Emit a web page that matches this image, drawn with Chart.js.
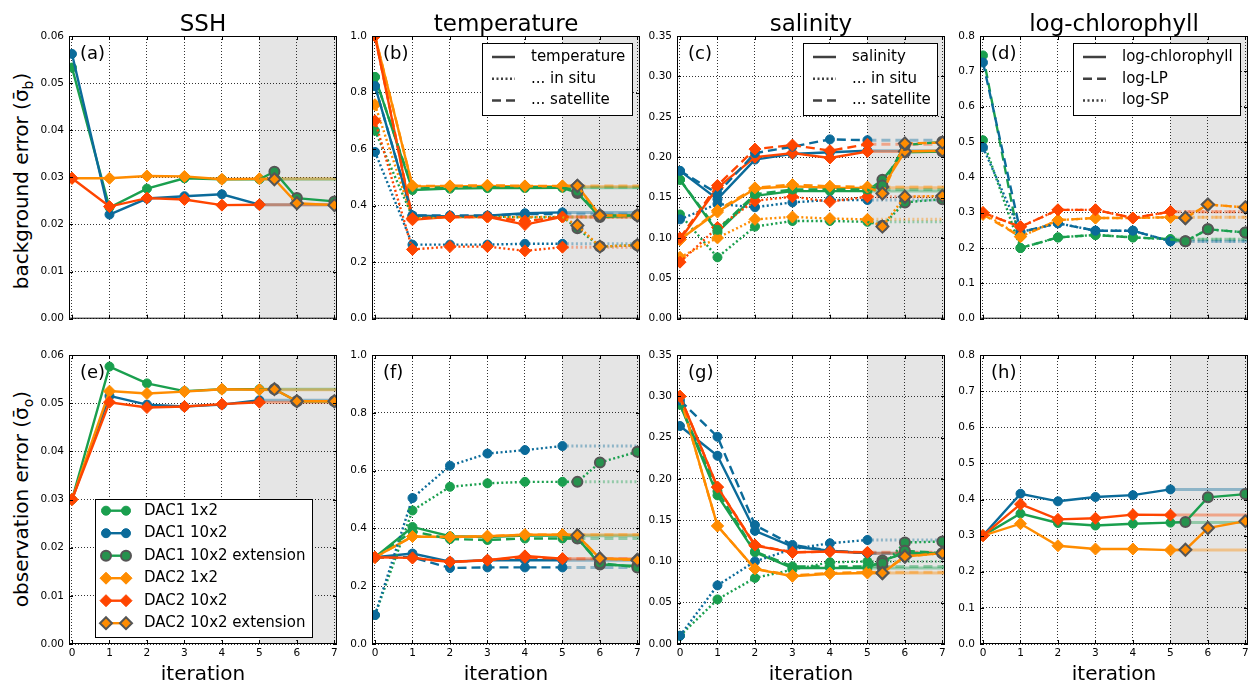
<!DOCTYPE html>
<html>
<head>
<meta charset="utf-8">
<title>DAC error estimates per iteration</title>
<script src="https://cdn.jsdelivr.net/npm/chart.js@4/dist/chart.umd.min.js"></script>
<style>
  body { margin: 0; background: #fff; }
  #wrap { position: relative; width: 1252px; height: 685px; overflow: hidden; font-family: "DejaVu Sans", sans-serif; }
  #wrap canvas { position: absolute; }
  .ylab { position: absolute; font-size: 20px; white-space: nowrap; transform: translate(-50%, -50%) rotate(-90deg); color: #000; }
  .ylab sub { font-size: 14px; }
</style>
</head>
<body>
<div id="wrap">
  <div class="ylab" style="left:22px; top:181px">background error (σ̄<sub>b</sub>)</div>
  <div class="ylab" style="left:22px; top:499px">observation error (σ̄<sub>o</sub>)</div>
</div>

<script>
// x positions
const iterations = [0, 1, 2, 3, 4, 5];
const extIterations = [5, 5.4, 6, 7];
const xTicks = [0, 1, 2, 3, 4, 5, 6, 7];

// y tick labels
const sshTicks = [0.00, 0.01, 0.02, 0.03, 0.04, 0.05, 0.06];
const tempTicks = [0.0, 0.2, 0.4, 0.6, 0.8, 1.0];
const saltTicks = [0.00, 0.05, 0.10, 0.15, 0.20, 0.25, 0.30, 0.35];
const chlTicks = [0.0, 0.1, 0.2, 0.3, 0.4, 0.5, 0.6, 0.7, 0.8];

const runNames = ['DAC1 1x2', 'DAC1 10x2', 'DAC1 10x2 extension', 'DAC2 1x2', 'DAC2 10x2', 'DAC2 10x2 extension'];

// (a) SSH, background error
const a_dac1_1x2 = [0.0533, 0.0236, 0.0276, 0.0298, 0.0296, 0.0296];
const a_dac1_10x2 = [0.0562, 0.0221, 0.0255, 0.0260, 0.0264, 0.0242];
const a_dac2_1x2 = [0.0298, 0.0298, 0.0303, 0.0302, 0.0296, 0.0297];
const a_dac2_10x2 = [0.0298, 0.0238, 0.0256, 0.0253, 0.0241, 0.0242];
const a_ext_dac1 = [0.0296, 0.0312, 0.0256, 0.0249];
const a_ext_dac2 = [0.0297, 0.0296, 0.0245, 0.0241];

// (b) temperature, background error
const b_dac1_1x2 = [0.855, 0.455, 0.460, 0.462, 0.462, 0.463];
const b_dac1_10x2 = [0.823, 0.365, 0.362, 0.364, 0.373, 0.376];
const b_dac2_1x2 = [1.000, 0.468, 0.468, 0.470, 0.468, 0.468];
const b_dac2_10x2 = [1.000, 0.350, 0.360, 0.360, 0.333, 0.360];
const b_dac1_1x2_insitu = [0.665, 0.360, 0.360, 0.362, 0.358, 0.360];
const b_dac1_10x2_insitu = [0.590, 0.262, 0.262, 0.262, 0.265, 0.265];
const b_dac2_1x2_insitu = [0.757, 0.355, 0.360, 0.360, 0.360, 0.360];
const b_dac2_10x2_insitu = [0.700, 0.245, 0.255, 0.255, 0.240, 0.253];
const b_dac1_1x2_sat = [0.855, 0.460, 0.465, 0.465, 0.465, 0.465];
const b_dac1_10x2_sat = [0.823, 0.365, 0.365, 0.365, 0.370, 0.370];
const b_dac2_1x2_sat = [1.000, 0.470, 0.470, 0.472, 0.470, 0.470];
const b_dac2_10x2_sat = [1.000, 0.355, 0.360, 0.360, 0.345, 0.360];
const b_ext_dac1 = [0.463, 0.445, 0.360, 0.365];
const b_ext_dac2 = [0.468, 0.470, 0.365, 0.365];
const b_ext_dac1_insitu = [0.360, 0.320, 0.255, 0.260];
const b_ext_dac2_insitu = [0.360, 0.330, 0.255, 0.260];
const b_ext_dac1_sat = [0.465, 0.450, 0.365, 0.365];
const b_ext_dac2_sat = [0.470, 0.470, 0.365, 0.365];

// (c) salinity, background error
const c_dac1_1x2 = [0.172, 0.107, 0.152, 0.158, 0.158, 0.158];
const c_dac1_10x2 = [0.183, 0.148, 0.197, 0.204, 0.206, 0.208];
const c_dac2_1x2 = [0.098, 0.132, 0.161, 0.164, 0.162, 0.162];
const c_dac2_10x2 = [0.098, 0.162, 0.200, 0.205, 0.199, 0.207];
const c_dac1_1x2_insitu = [0.129, 0.076, 0.114, 0.121, 0.121, 0.120];
const c_dac1_10x2_insitu = [0.123, 0.142, 0.138, 0.144, 0.147, 0.147];
const c_dac2_1x2_insitu = [0.076, 0.100, 0.123, 0.126, 0.124, 0.123];
const c_dac2_10x2_insitu = [0.070, 0.113, 0.146, 0.151, 0.145, 0.151];
const c_dac1_1x2_sat = [0.172, 0.110, 0.154, 0.160, 0.160, 0.160];
const c_dac1_10x2_sat = [0.183, 0.155, 0.205, 0.213, 0.222, 0.221];
const c_dac2_1x2_sat = [0.098, 0.134, 0.162, 0.166, 0.164, 0.163];
const c_dac2_10x2_sat = [0.100, 0.165, 0.210, 0.215, 0.208, 0.216];
const c_ext_dac1 = [0.158, 0.172, 0.206, 0.207];
const c_ext_dac2 = [0.162, 0.163, 0.207, 0.208];
const c_ext_dac1_insitu = [0.120, 0.115, 0.144, 0.148];
const c_ext_dac2_insitu = [0.123, 0.114, 0.151, 0.152];
const c_ext_dac1_sat = [0.160, 0.165, 0.215, 0.219];
const c_ext_dac2_sat = [0.163, 0.155, 0.217, 0.218];

// (d) log-chlorophyll, background error
const d_dac1_1x2_lp = [0.745, 0.200, 0.230, 0.237, 0.230, 0.225];
const d_dac1_10x2_lp = [0.725, 0.245, 0.270, 0.249, 0.249, 0.219];
const d_dac2_1x2_lp = [0.295, 0.232, 0.279, 0.285, 0.285, 0.287];
const d_dac2_10x2_lp = [0.300, 0.260, 0.308, 0.308, 0.285, 0.303];
const d_dac1_1x2_sp = [0.505, 0.200, 0.230, 0.237, 0.230, 0.225];
const d_dac1_10x2_sp = [0.485, 0.245, 0.270, 0.249, 0.249, 0.219];
const d_dac2_1x2_sp = [0.300, 0.232, 0.279, 0.285, 0.285, 0.287];
const d_dac2_10x2_sp = [0.300, 0.260, 0.308, 0.308, 0.285, 0.303];
const d_ext_dac1 = [0.225, 0.219, 0.253, 0.244];
const d_ext_dac2 = [0.287, 0.285, 0.323, 0.315];

// (e) SSH, observation error
const e_dac1_1x2 = [0.0300, 0.0576, 0.0541, 0.0525, 0.0529, 0.0529];
const e_dac1_10x2 = [0.0300, 0.0515, 0.0497, 0.0493, 0.0497, 0.0506];
const e_dac2_1x2 = [0.0300, 0.0525, 0.0520, 0.0524, 0.0529, 0.0528];
const e_dac2_10x2 = [0.0300, 0.0502, 0.0491, 0.0493, 0.0498, 0.0502];
const e_ext_dac1 = [0.0529, 0.0529, 0.0504, 0.0504];
const e_ext_dac2 = [0.0528, 0.0529, 0.0504, 0.0504];

// (f) temperature, observation error
const f_dac1_1x2 = [0.300, 0.405, 0.373, 0.370, 0.375, 0.375];
const f_dac1_10x2 = [0.300, 0.313, 0.285, 0.290, 0.290, 0.290];
const f_dac2_1x2 = [0.300, 0.372, 0.370, 0.373, 0.378, 0.378];
const f_dac2_10x2 = [0.300, 0.298, 0.284, 0.290, 0.305, 0.295];
const f_dac1_1x2_insitu = [0.100, 0.462, 0.544, 0.556, 0.561, 0.561];
const f_dac1_10x2_insitu = [0.100, 0.505, 0.617, 0.659, 0.671, 0.685];
const f_dac1_1x2_sat = [0.300, 0.390, 0.363, 0.360, 0.365, 0.365];
const f_dac1_10x2_sat = [0.300, 0.300, 0.263, 0.265, 0.265, 0.265];
const f_dac2_1x2_sat = [0.300, 0.372, 0.370, 0.373, 0.378, 0.378];
const f_dac2_10x2_sat = [0.300, 0.298, 0.284, 0.290, 0.300, 0.295];
const f_ext_dac1 = [0.375, 0.367, 0.275, 0.270];
const f_ext_dac2 = [0.378, 0.376, 0.296, 0.292];
const f_ext_dac1_insitu = [0.561, 0.561, 0.628, 0.665];
const f_ext_dac1_sat = [0.365, 0.365, 0.280, 0.265];
const f_ext_dac2_sat = [0.378, 0.376, 0.296, 0.290];

// (g) salinity, observation error
const g_dac1_1x2 = [0.290, 0.180, 0.111, 0.092, 0.092, 0.092];
const g_dac1_10x2 = [0.264, 0.228, 0.137, 0.118, 0.113, 0.110];
const g_dac2_1x2 = [0.300, 0.143, 0.091, 0.082, 0.085, 0.086];
const g_dac2_10x2 = [0.300, 0.190, 0.119, 0.111, 0.112, 0.110];
const g_dac1_1x2_insitu = [0.010, 0.054, 0.080, 0.090, 0.099, 0.100];
const g_dac1_10x2_insitu = [0.010, 0.071, 0.100, 0.115, 0.122, 0.126];
const g_dac1_1x2_sat = [0.290, 0.185, 0.112, 0.094, 0.094, 0.094];
const g_dac1_10x2_sat = [0.295, 0.251, 0.144, 0.120, 0.113, 0.110];
const g_dac2_1x2_sat = [0.300, 0.143, 0.091, 0.083, 0.086, 0.087];
const g_dac2_10x2_sat = [0.300, 0.190, 0.120, 0.111, 0.112, 0.111];
const g_ext_dac1 = [0.092, 0.101, 0.110, 0.110];
const g_ext_dac2 = [0.086, 0.086, 0.106, 0.110];
const g_ext_dac1_insitu = [0.100, 0.094, 0.123, 0.124];
const g_ext_dac1_sat = [0.094, 0.098, 0.113, 0.110];
const g_ext_dac2_sat = [0.087, 0.086, 0.106, 0.110];

// (h) log-chlorophyll, observation error
const h_dac1_1x2 = [0.300, 0.361, 0.335, 0.328, 0.333, 0.336];
const h_dac1_10x2 = [0.300, 0.416, 0.395, 0.407, 0.412, 0.428];
const h_dac2_1x2 = [0.300, 0.333, 0.272, 0.263, 0.263, 0.260];
const h_dac2_10x2 = [0.300, 0.387, 0.345, 0.348, 0.358, 0.357];
const h_ext_dac1 = [0.336, 0.338, 0.406, 0.415];
const h_ext_dac2 = [0.260, 0.261, 0.321, 0.340];

// styles
const FONT = '"DejaVu Sans", sans-serif';
const GREEN = '#1a9f4e', BLUE = '#0b6b9a', ORANGE = '#ff8c00', RED = '#ff4500';
const EXT_GREEN = '#26924d', EDGE = '#555555';
const colors = [GREEN, BLUE, ORANGE, RED];
const markers = ['circle', 'circle', 'rectRot', 'rectRot'];
const dashes = { solid: [], dotted: [2, 2.5], dashed: [9, 5] };
const fade = { [GREEN]: 'rgba(26,159,78,0.4)', [BLUE]: 'rgba(11,107,154,0.4)', [ORANGE]: 'rgba(255,140,0,0.4)', [RED]: 'rgba(255,69,0,0.4)' };

const colLeft = [69, 372, 677, 980];
const plotW = 268;

const styleLegend = (a, b, c) => [['solid', a], ['dotted', b], ['dashed', c]];

const panels = [
  { id: 'a', col: 0, row: 0, title: 'SSH', ticks: sshTicks, dec: 2, groups: [
    { style: 'solid', lines: [a_dac1_1x2, a_dac1_10x2, a_dac2_1x2, a_dac2_10x2], ext: [a_ext_dac1, a_ext_dac2] }] },
  { id: 'b', col: 1, row: 0, title: 'temperature', ticks: tempTicks, dec: 1,
    legend: { width: 150, items: styleLegend('temperature', '... in situ', '... satellite') },
    groups: [
    { style: 'solid', lines: [b_dac1_1x2, b_dac1_10x2, b_dac2_1x2, b_dac2_10x2], ext: [b_ext_dac1, b_ext_dac2] },
    { style: 'dotted', lines: [b_dac1_1x2_insitu, b_dac1_10x2_insitu, b_dac2_1x2_insitu, b_dac2_10x2_insitu], ext: [b_ext_dac1_insitu, b_ext_dac2_insitu] },
    { style: 'dashed', lines: [b_dac1_1x2_sat, b_dac1_10x2_sat, b_dac2_1x2_sat, b_dac2_10x2_sat], ext: [b_ext_dac1_sat, b_ext_dac2_sat] }] },
  { id: 'c', col: 2, row: 0, title: 'salinity', ticks: saltTicks, dec: 2,
    legend: { width: 134, items: styleLegend('salinity', '... in situ', '... satellite') },
    groups: [
    { style: 'solid', lines: [c_dac1_1x2, c_dac1_10x2, c_dac2_1x2, c_dac2_10x2], ext: [c_ext_dac1, c_ext_dac2] },
    { style: 'dotted', lines: [c_dac1_1x2_insitu, c_dac1_10x2_insitu, c_dac2_1x2_insitu, c_dac2_10x2_insitu], ext: [c_ext_dac1_insitu, c_ext_dac2_insitu] },
    { style: 'dashed', lines: [c_dac1_1x2_sat, c_dac1_10x2_sat, c_dac2_1x2_sat, c_dac2_10x2_sat], ext: [c_ext_dac1_sat, c_ext_dac2_sat] }] },
  { id: 'd', col: 3, row: 0, title: 'log-chlorophyll', ticks: chlTicks, dec: 1,
    legend: { width: 167, items: [['solid', 'log-chlorophyll'], ['dashed', 'log-LP'], ['dotted', 'log-SP']] },
    groups: [
    { style: 'dashed', lines: [d_dac1_1x2_lp, d_dac1_10x2_lp, d_dac2_1x2_lp, d_dac2_10x2_lp], ext: [d_ext_dac1, d_ext_dac2] },
    { style: 'dotted', lines: [d_dac1_1x2_sp, d_dac1_10x2_sp, d_dac2_1x2_sp, d_dac2_10x2_sp], ext: [d_ext_dac1, d_ext_dac2] }] },
  { id: 'e', col: 0, row: 1, ticks: sshTicks, dec: 2, runLegend: true, groups: [
    { style: 'solid', lines: [e_dac1_1x2, e_dac1_10x2, e_dac2_1x2, e_dac2_10x2], ext: [e_ext_dac1, e_ext_dac2] }] },
  { id: 'f', col: 1, row: 1, ticks: tempTicks, dec: 1, groups: [
    { style: 'solid', lines: [f_dac1_1x2, f_dac1_10x2, f_dac2_1x2, f_dac2_10x2], ext: [f_ext_dac1, f_ext_dac2] },
    { style: 'dotted', lines: [f_dac1_1x2_insitu, f_dac1_10x2_insitu, null, null], ext: [f_ext_dac1_insitu, null] },
    { style: 'dashed', lines: [f_dac1_1x2_sat, f_dac1_10x2_sat, f_dac2_1x2_sat, f_dac2_10x2_sat], ext: [f_ext_dac1_sat, f_ext_dac2_sat] }] },
  { id: 'g', col: 2, row: 1, ticks: saltTicks, dec: 2, groups: [
    { style: 'solid', lines: [g_dac1_1x2, g_dac1_10x2, g_dac2_1x2, g_dac2_10x2], ext: [g_ext_dac1, g_ext_dac2] },
    { style: 'dotted', lines: [g_dac1_1x2_insitu, g_dac1_10x2_insitu, null, null], ext: [g_ext_dac1_insitu, null] },
    { style: 'dashed', lines: [g_dac1_1x2_sat, g_dac1_10x2_sat, g_dac2_1x2_sat, g_dac2_10x2_sat], ext: [g_ext_dac1_sat, g_ext_dac2_sat] }] },
  { id: 'h', col: 3, row: 1, ticks: chlTicks, dec: 1, groups: [
    { style: 'solid', lines: [h_dac1_1x2, h_dac1_10x2, h_dac2_1x2, h_dac2_10x2], ext: [h_ext_dac1, h_ext_dac2] }] }
];

function buildDatasets(p) {
  const sets = [];
  let z = 0;
  // faint continuation of each run past iteration 5
  p.groups.forEach(g => g.lines.forEach((ys, k) => {
    if (!ys) return;
    sets.push({ data: [{ x: 5, y: ys[5] }, { x: 7.1, y: ys[5] }], showLine: true, borderColor: fade[colors[k]],
      borderWidth: 3, borderDash: dashes[g.style], pointRadius: 0, clip: 0, order: -(z++) });
  }));
  // the four runs
  p.groups.forEach(g => g.lines.forEach((ys, k) => {
    if (!ys) return;
    const c = colors[k];
    sets.push({ data: iterations.map((x, i) => ({ x: x, y: ys[i] })), showLine: true, borderColor: c, borderWidth: 2.4,
      borderDash: dashes[g.style], pointStyle: markers[k], pointRadius: k < 2 ? 4.5 : 6, pointBackgroundColor: c,
      pointBorderColor: c, pointBorderWidth: 1, clip: 0, order: -(z++) });
  }));
  // extension runs
  p.groups.forEach(g => g.ext.forEach((ys, k) => {
    if (!ys) return;
    const line = k === 0 ? GREEN : ORANGE;
    const r = k === 0 ? 5 : 6;
    sets.push({ data: extIterations.map((x, i) => ({ x: x, y: ys[i] })), showLine: true, borderColor: line, borderWidth: 2.4,
      borderDash: dashes[g.style], pointStyle: k === 0 ? 'circle' : 'rectRot',
      pointRadius: ctx => ctx.dataIndex === 0 ? 0 : r, pointBackgroundColor: k === 0 ? EXT_GREEN : ORANGE,
      pointBorderColor: EDGE, pointBorderWidth: 2, clip: 0, order: -(z++) });
  }));
  return sets;
}

function drawMarker(ctx, kind, x, y, r, fill, edge, lw) {
  ctx.beginPath();
  if (kind === 'circle') ctx.arc(x, y, r, 0, Math.PI * 2);
  else { ctx.moveTo(x, y - r); ctx.lineTo(x + r, y); ctx.lineTo(x, y + r); ctx.lineTo(x - r, y); ctx.closePath(); }
  ctx.fillStyle = fill; ctx.fill();
  ctx.setLineDash([]); ctx.lineWidth = lw; ctx.strokeStyle = edge; ctx.stroke();
}

function drawStyleLegend(ctx, a, L) {
  const h = 72, x0 = a.right - 8 - L.width, y0 = a.top + 7;
  ctx.fillStyle = '#fff'; ctx.fillRect(x0, y0, L.width, h);
  ctx.strokeStyle = '#000'; ctx.lineWidth = 1; ctx.setLineDash([]);
  ctx.strokeRect(Math.round(x0) + 0.5, Math.round(y0) + 0.5, L.width, h);
  ctx.font = '15px ' + FONT; ctx.textAlign = 'left'; ctx.textBaseline = 'middle';
  L.items.forEach((it, i) => {
    const y = y0 + 14 + i * 21.7;
    ctx.strokeStyle = '#404040'; ctx.lineWidth = 2.5; ctx.setLineDash(dashes[it[0]]);
    ctx.beginPath(); ctx.moveTo(x0 + 10, y); ctx.lineTo(x0 + 33, y); ctx.stroke();
    ctx.setLineDash([]); ctx.fillStyle = '#000';
    ctx.fillText(it[1], x0 + 49, y);
  });
}

function drawRunLegend(ctx, a) {
  const x0 = a.left + 26, y0 = a.top + 144, w = 217, h = 138;
  ctx.fillStyle = '#fff'; ctx.fillRect(x0, y0, w, h);
  ctx.strokeStyle = '#000'; ctx.lineWidth = 1; ctx.setLineDash([]);
  ctx.strokeRect(Math.round(x0) + 0.5, Math.round(y0) + 0.5, w, h);
  const entries = [
    [GREEN, 'circle', GREEN, GREEN, 4.5, 1], [BLUE, 'circle', BLUE, BLUE, 4.5, 1], [GREEN, 'circle', EXT_GREEN, EDGE, 5, 2],
    [ORANGE, 'rectRot', ORANGE, ORANGE, 6, 1], [RED, 'rectRot', RED, RED, 6, 1], [ORANGE, 'rectRot', ORANGE, EDGE, 6, 2]
  ];
  ctx.font = '15px ' + FONT; ctx.textAlign = 'left'; ctx.textBaseline = 'middle';
  entries.forEach((e, i) => {
    const y = y0 + 11.7 + i * 22.5;
    ctx.strokeStyle = e[0]; ctx.lineWidth = 2.4; ctx.setLineDash([]);
    ctx.beginPath(); ctx.moveTo(x0 + 11, y); ctx.lineTo(x0 + 31, y); ctx.stroke();
    drawMarker(ctx, e[1], x0 + 11, y, e[4], e[2], e[3], e[5]);
    drawMarker(ctx, e[1], x0 + 31, y, e[4], e[2], e[3], e[5]);
    ctx.fillStyle = '#000';
    ctx.fillText(runNames[i], x0 + 49, y);
  });
}

function decorPlugin(p) {
  return {
    id: 'decor',
    beforeDraw(chart) {
      const ctx = chart.ctx, a = chart.chartArea;
      const x5 = chart.scales.x.getPixelForValue(5);
      ctx.save();
      ctx.fillStyle = '#e5e5e5';
      ctx.fillRect(x5, a.top, a.right - x5, a.bottom - a.top);
      ctx.restore();
    },
    afterDraw(chart) {
      const ctx = chart.ctx, a = chart.chartArea, xs = chart.scales.x, ys = chart.scales.y;
      ctx.save();
      ctx.strokeStyle = '#000'; ctx.lineWidth = 1;
      ctx.strokeRect(a.left + 0.5, a.top + 0.5, a.right - a.left - 1, a.bottom - a.top - 1);
      ctx.beginPath();
      xTicks.forEach(v => {
        const px = Math.round(xs.getPixelForValue(v)) + 0.5;
        ctx.moveTo(px, a.bottom); ctx.lineTo(px, a.bottom - 4);
        ctx.moveTo(px, a.top); ctx.lineTo(px, a.top + 4);
      });
      p.ticks.forEach(v => {
        const py = Math.round(ys.getPixelForValue(v)) + 0.5;
        ctx.moveTo(a.left, py); ctx.lineTo(a.left + 4, py);
        ctx.moveTo(a.right, py); ctx.lineTo(a.right - 4, py);
      });
      ctx.stroke();
      ctx.fillStyle = '#000';
      if (p.title) {
        ctx.font = '23px ' + FONT; ctx.textAlign = 'center'; ctx.textBaseline = 'alphabetic';
        ctx.fillText(p.title, (a.left + a.right) / 2, a.top - 5);
      }
      ctx.font = '18px ' + FONT; ctx.textAlign = 'left'; ctx.textBaseline = 'middle';
      ctx.fillText('(' + p.id + ')', a.left + 11, a.top + 18);
      if (p.legend) drawStyleLegend(ctx, a, p.legend);
      if (p.runLegend) drawRunLegend(ctx, a);
      ctx.restore();
    }
  };
}

const wrap = document.getElementById('wrap');
panels.forEach(p => {
  const bottomRow = p.row === 1;
  const canvas = document.createElement('canvas');
  canvas.width = 40 + plotW + 8;
  canvas.height = bottomRow ? 355 : 330;
  canvas.style.left = (colLeft[p.col] - 40) + 'px';
  canvas.style.top = (bottomRow ? 330 : 0) + 'px';
  wrap.appendChild(canvas);

  new Chart(canvas.getContext('2d'), {
    type: 'scatter',
    data: { datasets: buildDatasets(p) },
    plugins: [decorPlugin(p)],
    options: {
      responsive: false,
      animation: false,
      events: [],
      layout: { padding: { top: bottomRow ? 25 : 36, right: 8, left: 0, bottom: 0 } },
      plugins: { legend: { display: false }, tooltip: { enabled: false } },
      elements: { line: { tension: 0 } },
      scales: {
        x: {
          type: 'linear', min: -0.08, max: 7.07,
          afterBuildTicks: s => { s.ticks = xTicks.map(v => ({ value: v })); },
          afterFit: s => { s.height = bottomRow ? 41 : 4; },
          grid: { color: 'rgba(0,0,0,0.8)', lineWidth: 1, drawTicks: false },
          border: { display: false, dash: [1, 2] },
          ticks: { display: bottomRow, padding: 3, color: '#000', font: { family: FONT, size: 10.5 }, callback: v => String(v) },
          title: { display: bottomRow, text: 'iteration', color: '#000', font: { family: FONT, size: 20, lineHeight: 1 }, padding: 0 }
        },
        y: {
          type: 'linear', min: p.ticks[0], max: p.ticks[p.ticks.length - 1],
          afterBuildTicks: s => { s.ticks = p.ticks.map(v => ({ value: v })); },
          afterFit: s => { s.width = 40; },
          grid: { color: 'rgba(0,0,0,0.8)', lineWidth: 1, drawTicks: false },
          border: { display: false, dash: [1, 2] },
          ticks: { padding: 5, color: '#000', font: { family: FONT, size: 10.5 }, callback: v => v.toFixed(p.dec) }
        }
      }
    }
  });
});
</script>
</body>
</html>
